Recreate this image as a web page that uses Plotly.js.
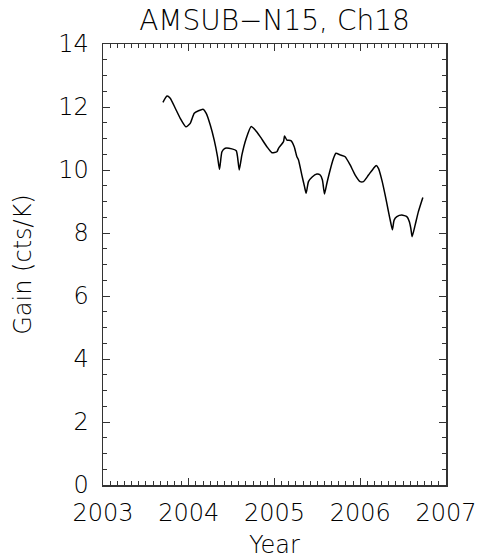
<!DOCTYPE html>
<html>
<head>
<meta charset="utf-8">
<script src="https://cdn.plot.ly/plotly-3.0.1.min.js"></script>
<style>html,body{margin:0;padding:0;background:#fff;}#chart{width:483px;height:560px;}</style>
</head>
<body>
<div id="chart"></div>
<script>
// Decimal year of each sample
var years = [2003.699,2003.746,2003.784,2003.843,2003.901,2003.967,2004.017,2004.064,2004.114,2004.166,
2004.204,2004.251,2004.297,2004.336,2004.359,2004.387,2004.425,2004.503,2004.554,2004.569,
2004.589,2004.620,2004.670,2004.728,2004.775,2004.833,2004.911,2004.970,2005.028,2005.047,
2005.105,2005.117,2005.145,2005.191,2005.230,2005.261,2005.280,2005.319,2005.350,2005.369,
2005.396,2005.436,2005.494,2005.533,2005.559,2005.583,2005.611,2005.649,2005.688,2005.716,
2005.766,2005.824,2005.882,2005.941,2005.999,2006.037,2006.096,2006.154,2006.185,2006.212,
2006.252,2006.290,2006.329,2006.357,2006.375,2006.395,2006.427,2006.485,2006.543,2006.573,
2006.590,2006.605,2006.640,2006.678,2006.730];
// Gain (cts/K)
var gain = [12.15,12.35,12.28,11.96,11.64,11.37,11.48,11.80,11.88,11.93,
11.80,11.43,10.95,10.42,10.02,10.58,10.69,10.67,10.61,10.42,
10.00,10.48,11.00,11.38,11.27,11.06,10.74,10.55,10.58,10.69,
10.90,11.08,10.95,10.93,10.74,10.42,10.32,9.84,9.47,9.26,
9.63,9.77,9.87,9.84,9.68,9.24,9.58,10.00,10.37,10.53,
10.48,10.42,10.16,9.84,9.63,9.63,9.84,10.05,10.14,10.05,
9.68,9.21,8.68,8.31,8.10,8.41,8.52,8.57,8.52,8.36,
8.15,7.88,8.25,8.68,9.13];
var xTickVals = [2003,2004,2005,2006,2007];
var xTickText = ['2003','2004','2005','2006','2007'];
var yTickVals = [0,2,4,6,8,10,12,14];

var fnt = {family: 'DejaVu Sans, sans-serif', size: 24, color: '#000', weight: 200};
var axisCommon = {
  showgrid: false, zeroline: false, showline: true, linecolor: '#333', linewidth: 1.5,
  mirror: 'allticks', ticks: 'inside', ticklen: 7, tickwidth: 1, tickcolor: '#333',
  tickfont: fnt
};
var trace = {
  x: years, y: gain, type: 'scatter', mode: 'lines',
  line: {color: '#000', width: 1.5, shape: 'spline', smoothing: 0.5}, hoverinfo: 'skip'
};
var layout = {
  width: 483, height: 560,
  margin: {l: 103, r: 37, t: 44, b: 75},
  paper_bgcolor: '#fff', plot_bgcolor: '#fff',
  showlegend: false,
  title: {text: 'AMSUB\u2212N15, Ch18', font: {family: 'DejaVu Sans, sans-serif', size: 28, color: '#000', weight: 200},
          x: 0.5, xanchor: 'center', xref: 'paper', y: 0.982, yanchor: 'top'},
  xaxis: Object.assign({}, axisCommon, {
    range: [2003, 2007], tickvals: xTickVals, ticktext: xTickText,
    ticklabelstandoff: 6,
    minor: {dtick: 1/12, tick0: 2003, ticks: 'inside', ticklen: 4, tickcolor: '#333', tickwidth: 1, showgrid: false},
    title: {text: 'Year', font: fnt, standoff: 10}
  }),
  yaxis: Object.assign({}, axisCommon, {
    range: [0, 14], tickvals: yTickVals,
    ticklabelstandoff: 8,
    minor: {dtick: 0.5, tick0: 0, ticks: 'inside', ticklen: 4, tickcolor: '#333', tickwidth: 1, showgrid: false},
    title: {text: 'Gain (cts/K)', font: fnt, standoff: 20}
  })
};
Plotly.newPlot('chart', [trace], layout, {displayModeBar: false, staticPlot: true});
</script>
</body>
</html>
